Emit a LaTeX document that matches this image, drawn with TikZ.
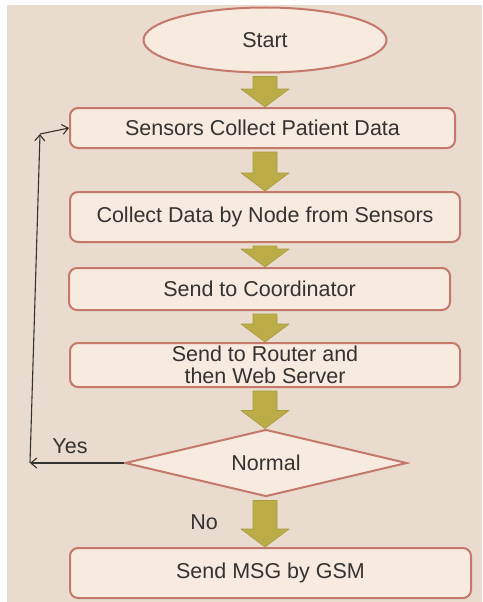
\documentclass[tikz,border=0pt]{standalone}
\usepackage{fontspec}
\setmainfont{Liberation Sans}
\usetikzlibrary{shapes.geometric,calc,arrows.meta}
\definecolor{bgc}{HTML}{E9DBCD}
\definecolor{boxfill}{HTML}{F7EADF}
\definecolor{boxline}{HTML}{C4796A}
\definecolor{arrfill}{HTML}{BBAC48}
\definecolor{arredge}{HTML}{A99B3E}
\definecolor{txt}{HTML}{353331}
\tikzset{
  base/.style={draw=boxline, fill=boxfill, line width=2pt, text=txt, inner sep=0pt,
    font=\fontsize{21.5}{22}\selectfont, align=center},
  stepbox/.style={base, rectangle, rounded corners=8pt},
  startbox/.style={base, ellipse},
  decbox/.style={base, diamond, aspect=4.2},
  barrow/.style={fill=arrfill, draw=arredge, line width=0.6pt, line join=round},
  fb/.style={draw=txt, line width=1.1pt, -{Straight Barb[length=6pt,width=10pt]}},
  lbl/.style={text=txt, font=\fontsize{21.5}{22}\selectfont, inner sep=0pt}
}
\newcommand\blockarrow[2]{%
  \path (#1 -| ax) coordinate (ba-s) (#2 -| ax) coordinate (ba-e);
  \filldraw[barrow] ($(ba-s)+(-12,3)$) -- ($(ba-e)+(-12,-18)$) -- ($(ba-e)+(-24,-18)$) -- (ba-e)
    -- ($(ba-e)+(24,-18)$) -- ($(ba-e)+(12,-18)$) -- ($(ba-s)+(12,3)$) -- cycle;}
\begin{document}
\begin{tikzpicture}[x=1pt,y=-1pt]
  \useasboundingbox (0,0) rectangle (482,602);
  \fill[white] (0,0) rectangle (482,602);
  \fill[bgc] (7,5) rectangle (482,602);
  \coordinate (ax) at (265,0);

  \node[startbox, minimum width=243, minimum height=65] (start) at (265,40) {Start};
  \node[stepbox, minimum width=385, minimum height=40] (b1) at (262.5,128) {Sensors Collect Patient Data};
  \node[stepbox, minimum width=390, minimum height=50] (b2) at (265,217) {Collect Data by Node from Sensors};
  \node[stepbox, minimum width=381, minimum height=42] (b3) at (259.5,289) {Send to Coordinator};
  \node[stepbox, minimum width=390, minimum height=44] (b4) at (265,365) {Send to Router and\\then Web Server};
  \node[decbox, minimum width=282, minimum height=67] (dec) at (266,463) {Normal};
  \node[stepbox, minimum width=401, minimum height=50] (b5) at (270.5,573) {Send MSG by GSM};

  \blockarrow{start.south}{b1.north}
  \blockarrow{b1.south}{b2.north}
  \blockarrow{b2.south}{b3.north}
  \blockarrow{b3.south}{b4.north}
  \blockarrow{b4.south}{dec.north}
  \blockarrow{dec.south}{b5.north}

  \coordinate (yescorner) at (30,463);
  \coordinate (upend) at (40,134);
  \draw[fb] (dec.west) -- (yescorner);
  \draw[fb] (yescorner) -- (upend);
  \draw[fb] (upend) -- (b1.west);

  \node[lbl] (yes) at (70,446) {Yes};
  \node[lbl] (no) at (204,522) {No};
\end{tikzpicture}
\end{document}
